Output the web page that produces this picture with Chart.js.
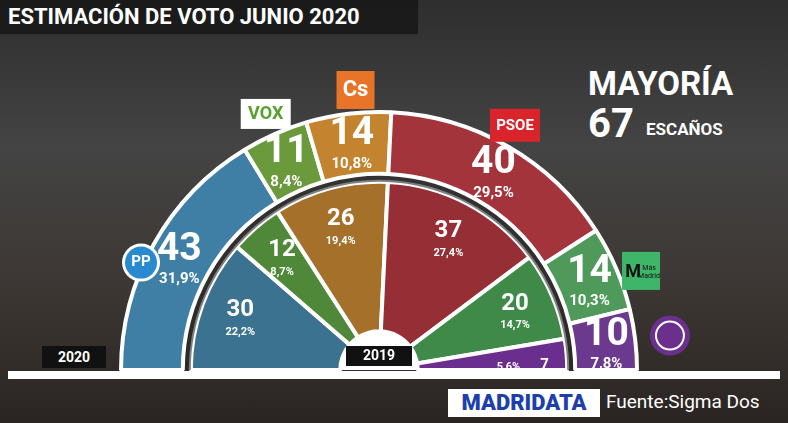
<!DOCTYPE html>
<html><head><meta charset="utf-8">
<script src="https://cdn.jsdelivr.net/npm/chart.js@4"></script>
<style>
body{margin:0;width:788px;height:423px;overflow:hidden;font-family:Roboto,"Open Sans",sans-serif;
background:linear-gradient(180deg,#2e2e2e 0%,#444 35%,#3c3633 70%,#2a2522 100%);position:relative}
#title{position:absolute;left:0;top:0;width:410px;height:34px;background:rgba(20,20,20,.75);color:#fff;font-weight:700;font-size:22px;line-height:34px;padding-left:8px}
#wrap{position:absolute;left:57px;top:50px;width:724px;height:322px}
.t{position:absolute;color:#fff;font-weight:700}
#line{position:absolute;left:8px;top:371px;width:772px;height:8px;background:#fff}
</style></head><body>
<div id="title">ESTIMACIÓN DE VOTO JUNIO 2020</div>
<div class="t" style="left:588px;top:64px;font-size:33px">MAYORÍA</div>
<div class="t" style="left:588px;top:100px;font-size:40px">67</div>
<div class="t" style="left:646px;top:119px;font-size:17px">ESCAÑOS</div>
<div id="wrap"><canvas id="c"></canvas></div>
<div id="line"></div>
<div class="t" style="left:42px;top:346px;width:64px;height:22px;background:#111;font-size:14px;line-height:22px;text-align:center">2020</div>
<div class="t" style="left:448px;top:389px;width:152px;height:28px;background:#fff;color:#1d3fae;font-size:22px;line-height:28px;text-align:center;font-weight:900">MADRIDATA</div>
<div class="t" style="left:606px;top:390px;font-size:19px;font-weight:400">Fuente:Sigma Dos</div>
<script>
const parties=['PP','VOX','Cs','PSOE','Más Madrid','Podemos'];
const seats2020=[43,11,14,40,14,10];
const pct2020=['31,9%','8,4%','10,8%','29,5%','10,3%','7,8%'];
const seats2019=[30,12,26,37,20,7];
const pct2019=['22,2%','8,7%','19,4%','27,4%','14,7%','5,6%'];
const col2020=['#3f7fa6','#6a9a3c','#c3832f','#a3343c','#4f9a5a','#6b3a8e'];
const col2019=['#3a7290','#4f8838','#a5702a','#952e35','#3f8a48','#6a2f8e'];
const labels={id:'labels',afterDatasetsDraw(ch){
 const x=ch.ctx;x.save();x.fillStyle='#fff';x.textAlign='center';x.textBaseline='middle';
 const draw=(di,vals,pcts,rr,big,small)=>{
  ch.getDatasetMeta(di).data.forEach((a,i)=>{
   const m=(a.startAngle+a.endAngle)/2;const cx=a.x+Math.cos(m)*rr, cy=a.y+Math.sin(m)*rr;
   if(di==2&&i==5){x.font='bold 15px Roboto';x.fillText(vals[i],cx+18,cy+8);x.font='bold 11px Roboto';x.fillText(pcts[i],cx-18,cy+10);return;}
   x.font='bold '+big+'px Roboto';x.fillText(vals[i],cx,cy-8);
   x.font='bold '+small+'px Roboto';x.fillText(pcts[i],cx,cy+big/2+2);
  });};
 draw(0,seats2020,pct2020,229,39,15);
 draw(2,seats2019,pct2019,148,24,11);
 const meta=ch.getDatasetMeta(0).data;
 const logo=(i,r,fn)=>{const a=meta[i];const m=(a.startAngle+a.endAngle)/2;fn(a.x+Math.cos(m)*r,a.y+Math.sin(m)*r);};
 logo(0,250,(px,py)=>{px-=20;py+=15;x.fillStyle='#fff';x.beginPath();x.arc(px,py,19,0,7);x.fill();x.fillStyle='#2a8ad0';x.beginPath();x.arc(px,py,16,0,7);x.fill();x.fillStyle='#fff';x.font='bold 15px Roboto';x.fillText('PP',px,py);});
 logo(1,280,(px,py)=>{x.fillStyle='#fff';x.fillRect(px-25,py-15,50,30);x.fillStyle='#5aa02c';x.font='bold 18px Roboto';x.fillText('VOX',px,py+1);});
 logo(2,282,(px,py)=>{px+=10;x.fillStyle='#e8742a';x.fillRect(px-19,py-19,38,38);x.fillStyle='#fff';x.font='bold 22px Roboto';x.fillText('Cs',px,py+1);});
 logo(3,282,(px,py)=>{px-=5;x.fillStyle='#d9242c';x.fillRect(px-25,py-17,50,33);x.fillStyle='#fff';x.font='bold 15px Roboto';x.fillText('PSOE',px,py);});
 logo(4,272,(px,py)=>{px+=12;py+=8;x.fillStyle='#3fb56a';x.fillRect(px-19,py-19,38,38);x.fillStyle='#111';x.font='bold 18px Roboto';x.fillText('M',px-8,py+2);x.font='7px Roboto';x.fillText('Más',px+8,py-3);x.fillText('Madrid',px+8,py+5);});
 logo(5,290,(px,py)=>{px+=3;x.fillStyle='#6b2f8e';x.beginPath();x.arc(px,py,20,0,7);x.fill();x.strokeStyle='#fff';x.lineWidth=2;x.beginPath();x.arc(px,py,14,0,7);x.stroke();});
 x.restore();
}};
new Chart(document.getElementById('c'),{type:'doughnut',
 data:{labels:parties,datasets:[
  {data:seats2020,backgroundColor:col2020,borderColor:'#fff',borderWidth:4,weight:62},
  {data:[132],backgroundColor:['rgba(40,40,40,0.6)'],borderWidth:0,weight:8},
  {data:seats2019,backgroundColor:col2019,borderColor:'#fff',borderWidth:4,weight:150}]},
 options:{responsive:true,maintainAspectRatio:false,animation:false,rotation:-90,circumference:180,cutout:'15%',
  layout:{padding:{left:60,right:140,top:60,bottom:0}},plugins:{legend:{display:false},tooltip:{enabled:false}}},
 plugins:[labels,{id:'ctr',afterDraw(ch){const a=ch.getDatasetMeta(0).data[0];const x=ch.ctx;x.save();x.fillStyle='#fff';x.beginPath();x.arc(a.x,a.y,38,Math.PI,0);x.fill();x.fillStyle='#111';x.fillRect(a.x-33,a.y-24,66,20);x.fillStyle='#fff';x.font='bold 14px Roboto';x.textAlign='center';x.textBaseline='middle';x.fillText('2019',a.x,a.y-14);x.restore();}}]
});
</script></body></html>
